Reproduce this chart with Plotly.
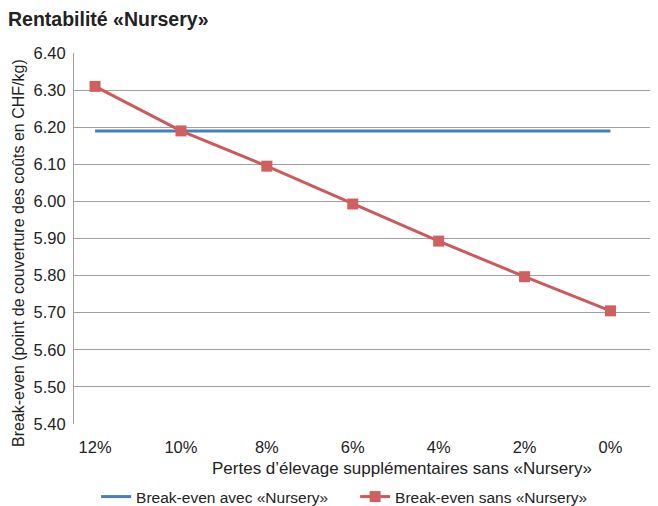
import plotly.graph_objects as go

categories = ["12%", "10%", "8%", "6%", "4%", "2%", "0%"]
avec_nursery = [6.19, 6.19, 6.19, 6.19, 6.19, 6.19, 6.19]
sans_nursery = [6.31, 6.19, 6.095, 5.993, 5.893, 5.797, 5.705]
y_ticks = [5.40, 5.50, 5.60, 5.70, 5.80, 5.90, 6.00, 6.10, 6.20, 6.30, 6.40]

xs = list(range(len(categories)))
font = "Liberation Sans, Arial, sans-serif"

fig = go.Figure()
fig.add_trace(go.Scatter(
    x=xs, y=avec_nursery, mode="lines", name="Break-even avec «Nursery»",
    line=dict(color="#4a7ebb", width=3),
))
fig.add_trace(go.Scatter(
    x=xs, y=sans_nursery, mode="lines+markers", name="Break-even sans «Nursery»",
    line=dict(color="#cc5a5a", width=3),
    marker=dict(symbol="square", size=11, color="#d06060"),
))

# the page body adds an 8px offset; margins compensate for it
fig.update_layout(
    width=658, height=506,
    margin=dict(l=66, r=10, t=45, b=90),
    paper_bgcolor="white", plot_bgcolor="white",
    font=dict(family=font, size=15, color="#222"),
    title=dict(text="<b>Rentabilité «Nursery»</b>", x=0.0, xanchor="left", y=0.992, yanchor="top",
               pad=dict(l=0), font=dict(size=19.5, color="#222")),
    showlegend=True,
    legend=dict(orientation="h", x=0.038, xanchor="left", yref="container", y=0.0, yanchor="bottom",
                font=dict(size=15.5), traceorder="normal",
                entrywidth=214, entrywidthmode="pixels", tracegroupgap=0),
    xaxis=dict(
        tickmode="array", tickvals=xs, ticktext=categories,
        range=[-0.245, 6.53], showgrid=False, zeroline=False,
        showline=False, ticks="outside", ticklen=8, tickcolor="white", tickfont=dict(size=16.5),
        automargin=False,
    ),
    yaxis=dict(
        range=[5.40, 6.40], tickmode="array", tickvals=y_ticks,
        ticktext=[f"{v:.2f}" for v in y_ticks],
        showgrid=True, gridcolor="#a0a0a0", gridwidth=1,
        showline=True, linecolor="#a0a0a0", zeroline=False, ticks="outside", ticklen=4, tickcolor="white",
        tickfont=dict(size=16.5), automargin=False,
    ),
    annotations=[
        dict(text="Break-even (point de couverture des coûts en CHF/kg)", textangle=-90,
             xref="paper", yref="paper", x=(18 - 74) / 582, y=(424 - 253) / 371,
             xanchor="center", yanchor="middle", showarrow=False, font=dict(size=16)),
        dict(text="Pertes d’élevage supplémentaires sans «Nursery»",
             xref="paper", yref="paper", x=(402 - 74) / 582, y=(424 - 468) / 371,
             xanchor="center", yanchor="middle", showarrow=False, font=dict(size=17)),
    ],
)

fig.write_html("out.html")
